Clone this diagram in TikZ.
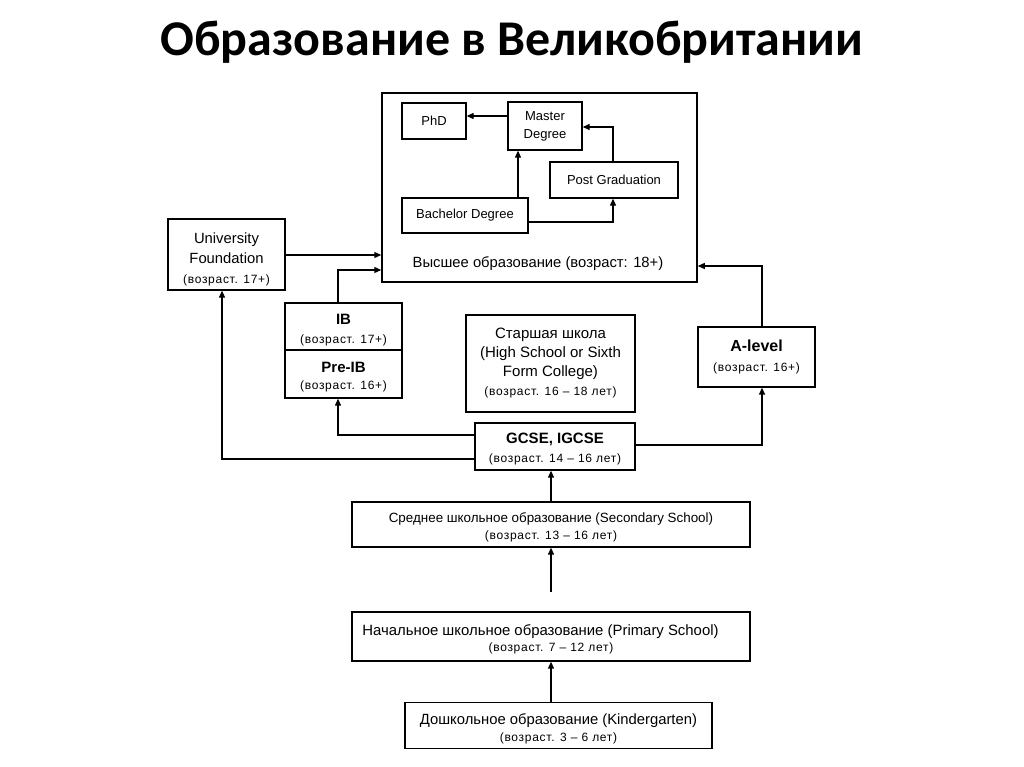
\documentclass[tikz,border=0pt]{standalone}
\usepackage{fontspec}
\setmainfont{Liberation Sans}
\newfontfamily\titlefont{Carlito}
\newfontfamily\agefont[LetterSpace=6]{Liberation Sans}
\usetikzlibrary{arrows.meta}
\newcommand{\agetxt}[2][19]{{\agefont\fontsize{12}{#1}\selectfont #2}}
\begin{document}
\begin{tikzpicture}[x=1pt,y=-1pt,
  box/.style={draw, line width=1.3pt, inner sep=0pt, align=center, fill=white},
  txt/.style={inner sep=0pt, align=center},
  arr/.style={line width=1.2pt, -{Triangle[length=7pt,width=6pt]}},
  big/.style={font=\fontsize{13}{18}\selectfont}]
\useasboundingbox (0,0) rectangle (1024,767);
\node[font=\titlefont\bfseries\fontsize{50}{54}\selectfont] (title) at (512,42) {Образование в Великобритании};

% Higher education
\node[box, line width=1.5pt, minimum width=315pt, minimum height=189pt] (high) at (539.5,187.5) {};
\node[txt, font=\fontsize{14.8}{18}\selectfont] (highlbl) at (538,264) {Высшее образование (возраст: 18+)};
\node[box, big, minimum width=64pt, minimum height=36pt] (phd) at (434,121) {PhD};
\node[box, big, minimum width=74pt, minimum height=48pt] (master) at (545,126) {Master\\Degree};
\node[box, big, minimum width=128pt, minimum height=36pt] (pg) at (614,180) {Post Graduation};
\node[box, big, minimum width=126pt, minimum height=35pt] (bach) at (465,215.5) {Bachelor Degree};

\draw[arr] (master.west |- 0,116) -- (phd.east |- 0,116);
\draw[arr] (bach.north -| 518,0) -- (master.south -| 518,0);
\draw[arr] (bach.east |- 0,222) -| (pg.south -| 613,0);
\draw[arr] (pg.north -| 613,0) |- (master.east |- 0,127);

% Left side
\node[box, minimum width=117pt, minimum height=71pt] (uf) at (226.5,254.5) {};
\node[txt, font=\fontsize{14.8}{20}\selectfont, yshift=-4.5pt] (uf-t) at (uf) {University\\Foundation\\\agetxt[20]{(возраст. 17+)}};
\node[box, minimum width=117pt, minimum height=47pt] (ib) at (343.5,326.5) {};
\node[txt, font=\fontsize{15}{19}\selectfont, yshift=-3.5pt] (ib-t) at (ib) {\bfseries IB\\\agetxt{(возраст. 17+)}};
\node[box, minimum width=117pt, minimum height=48pt] (preib) at (343.5,374) {};
\node[txt, font=\fontsize{15}{16.5}\selectfont, yshift=-3pt] (preib-t) at (preib) {\bfseries Pre-IB\\\agetxt[16.5]{(возраст. 16+)}};

% Middle
\node[box, minimum width=169pt, minimum height=97pt, font=\fontsize{15}{19}\selectfont] (sixth) at (550.5,363.5) {Старшая школа\\(High School or Sixth\\Form College)\\\agetxt{(возраст. 16 – 18 лет)}};
\node[box, minimum width=160pt, minimum height=47pt] (gcse) at (555,446.5) {};
\node[txt, font=\fontsize{15}{19}\selectfont, yshift=-3pt] (gcse-t) at (gcse) {\bfseries GCSE, IGCSE\\\agetxt{(возраст. 14 – 16 лет)}};
\node[box, minimum width=117pt, minimum height=60pt, font=\fontsize{16}{20}\selectfont] (alevel) at (756.5,357) {\bfseries A-level\\\agetxt[20]{(возраст. 16+)}};

\draw[arr] (uf.east |- 0,255) -- (high.west |- 0,255);
\draw[arr] (ib.north -| 338,0) |- (high.west |- 0,270);
\draw[arr] (gcse.west |- 0,435) -| (preib.south -| 338,0);
\draw[arr] (gcse.west |- 0,459) -| (uf.south -| 222,0);
\draw[arr] (gcse.east |- 0,445) -| (alevel.south -| 762,0);
\draw[arr] (alevel.north -| 762,0) |- (high.east |- 0,266);

% Schools
\node[box, minimum width=398pt, minimum height=45pt] (sec) at (551,524.5) {};
\node[txt, font=\fontsize{13.4}{16.5}\selectfont, yshift=-3pt] (sec-t) at (sec) {Среднее школьное образование (Secondary School)\\\agetxt[16.5]{(возраст. 13 – 16 лет)}};
\node[box, minimum width=398pt, minimum height=49pt] (prim) at (551,636.5) {};
\node[txt, font=\fontsize{14.9}{16.5}\selectfont, yshift=-3pt] (prim-t) at (prim) {Начальное школьное образование (Primary School)\hspace*{21pt}\\\agetxt[16.5]{(возраст. 7 – 12 лет)}};
\node[box, minimum width=307pt, minimum height=46pt] (kinder) at (558.5,725.5) {};
\node[txt, font=\fontsize{14.8}{16.5}\selectfont, yshift=-3.5pt] (kinder-t) at (kinder) {Дошкольное образование (Kindergarten)\\\agetxt[16.5]{(возраст. 3 – 6 лет)}};
\coordinate (pstart) at (551,592);

\draw[arr] (kinder.north -| 551,0) -- (prim.south -| 551,0);
\draw[arr] (pstart) -- (sec.south -| 551,0);
\draw[arr] (sec.north -| 551,0) -- (gcse.south -| 551,0);
\end{tikzpicture}
\end{document}
